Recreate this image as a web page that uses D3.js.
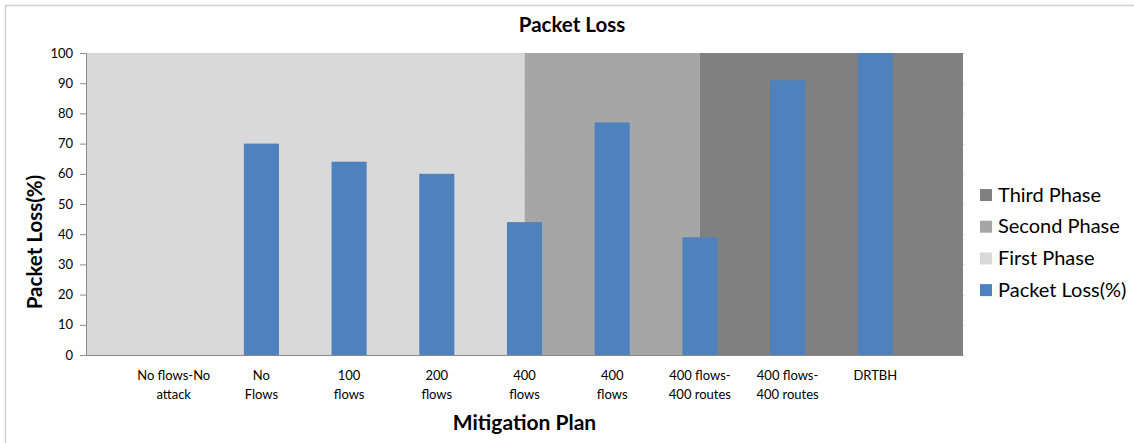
<!DOCTYPE html>
<html>
<head>
<meta charset="utf-8">
<script src="https://cdn.jsdelivr.net/npm/d3@7/dist/d3.min.js"></script>
<style>
  html, body { margin: 0; padding: 0; background: #fff; }
  svg { display: block; }
  text { font-family: Lato, "Open Sans", sans-serif; fill: #000; }
</style>
</head>
<body>
<div id="chart"></div>
<script>
// Categories of the mitigation plan (some names repeat across phases)
const categories = [
  "No flows-No attack", "No Flows", "100 flows", "200 flows", "400 flows",
  "400 flows", "400 flows-400 routes", "400 flows-400 routes", "DRTBH"
];
// Wrapped tick labels for the category axis
const tickLines = [
  ["No flows-No", "attack"], ["No", "Flows"], ["100", "flows"], ["200", "flows"],
  ["400", "flows"], ["400", "flows"], ["400 flows-", "400 routes"],
  ["400 flows-", "400 routes"], ["DRTBH"]
];
// Packet loss per category (%)
const packetLoss = [0, 70, 64, 60, 44, 77, 39, 91, 100];

// Background phase bands: category-index extents (-1 and 9 are the plot edges)
const phaseNames = ["First Phase", "Second Phase", "Third Phase"];
const phaseStart = [-1, 4, 6];
const phaseEnd = [4, 6, 9];
const phaseLevel = [100, 100, 100];
const phaseColors = ["#d9d9d9", "#a6a6a6", "#808080"];

const yTicks = [0, 10, 20, 30, 40, 50, 60, 70, 80, 90, 100];

const W = 1134, H = 443;
const plot = { left: 86, right: 963, top: 53, bottom: 355 };
const barColor = "#4f81bd";

const svg = d3.select("#chart").append("svg")
  .attr("width", W).attr("height", H);

svg.append("rect").attr("width", W).attr("height", H).attr("fill", "#fff");

// chart frame
svg.append("path")
  .attr("d", `M5.5,${H} V5.5 H${W}`)
  .attr("fill", "none").attr("stroke", "#cfcfcf").attr("stroke-width", 1.5);

const x = d3.scaleBand()
  .domain(d3.range(categories.length))
  .range([plot.left, plot.right])
  .paddingInner(0)
  .paddingOuter(0.5);

// continuous index scale aligned with band centres
const xi = d3.scaleLinear()
  .domain([-1, categories.length])
  .range([plot.left, plot.right]);

const y = d3.scaleLinear().domain([0, 100]).range([plot.bottom, plot.top]);

// faint horizontal gridlines
svg.append("g").selectAll("line").data(yTicks.slice(1)).join("line")
  .attr("x1", plot.left).attr("x2", plot.right + 2)
  .attr("y1", d => Math.round(y(d)) + 0.5).attr("y2", d => Math.round(y(d)) + 0.5)
  .attr("stroke", "#e4e4e4");

// phase areas
const area = d3.area()
  .x(d => xi(d.i))
  .y0(y(0))
  .y1(d => y(d.v));

phaseNames.forEach((name, k) => {
  const pts = [{ i: phaseStart[k], v: phaseLevel[k] }, { i: phaseEnd[k], v: phaseLevel[k] }];
  svg.append("path")
    .datum(pts)
    .attr("d", area)
    .attr("fill", phaseColors[k]);
});

// bars
const barW = x.step() * 0.4;
svg.append("g").selectAll("rect").data(packetLoss).join("rect")
  .attr("x", (d, i) => x(i) + x.bandwidth() / 2 - barW / 2)
  .attr("width", barW)
  .attr("y", d => y(d))
  .attr("height", d => y(0) - y(d))
  .attr("fill", barColor);

// y axis
const yAxis = svg.append("g")
  .attr("transform", `translate(${plot.left},0)`)
  .call(d3.axisLeft(y).tickValues(yTicks).tickSize(6).tickPadding(7));
yAxis.select(".domain").attr("stroke", "#8a8a8a");
yAxis.selectAll(".tick line").attr("stroke", "#8a8a8a");
yAxis.selectAll(".tick text")
  .style("font-family", "Lato, sans-serif").style("font-size", "13px").attr("fill", "#000");

// x axis
const xAxis = svg.append("g")
  .attr("transform", `translate(0,${plot.bottom})`)
  .call(d3.axisBottom(x).tickSize(0).tickFormat(""));
xAxis.select(".domain").attr("stroke", "#8a8a8a");

const catLabels = svg.append("g").selectAll("text").data(tickLines).join("text")
  .attr("text-anchor", "middle")
  .attr("x", (d, i) => x(i) + x.bandwidth() / 2)
  .attr("y", 380)
  .style("font-size", "13px");
catLabels.selectAll("tspan").data(d => d).join("tspan")
  .attr("x", function () { return d3.select(this.parentNode).attr("x"); })
  .attr("dy", (d, j) => j === 0 ? 0 : 18.5)
  .text(d => d);

// titles
svg.append("text")
  .attr("x", 572).attr("y", 32)
  .attr("text-anchor", "middle")
  .style("font-size", "20.5px").style("font-weight", "bold")
  .text("Packet Loss");

svg.append("text")
  .attr("x", (plot.left + plot.right) / 2).attr("y", 430)
  .attr("text-anchor", "middle")
  .style("font-size", "21px").style("font-weight", "bold")
  .text("Mitigation Plan");

svg.append("text")
  .attr("transform", "translate(41.5,242) rotate(-90)")
  .attr("text-anchor", "middle")
  .style("font-size", "20.5px").style("font-weight", "bold")
  .text("Packet Loss(%)");

// legend
const legendItems = [
  { name: phaseNames[2], color: phaseColors[2] },
  { name: phaseNames[1], color: phaseColors[1] },
  { name: phaseNames[0], color: phaseColors[0] },
  { name: "Packet Loss(%)", color: barColor }
];
const lg = svg.append("g").selectAll("g").data(legendItems).join("g")
  .attr("transform", (d, i) => `translate(980,${195 + i * 31.7})`);
lg.append("rect")
  .attr("x", 0).attr("y", -6).attr("width", 12).attr("height", 12)
  .attr("fill", d => d.color);
lg.append("text")
  .attr("x", 18).attr("y", 6.5)
  .style("font-size", "20px")
  .text(d => d.name);
</script>
</body>
</html>
